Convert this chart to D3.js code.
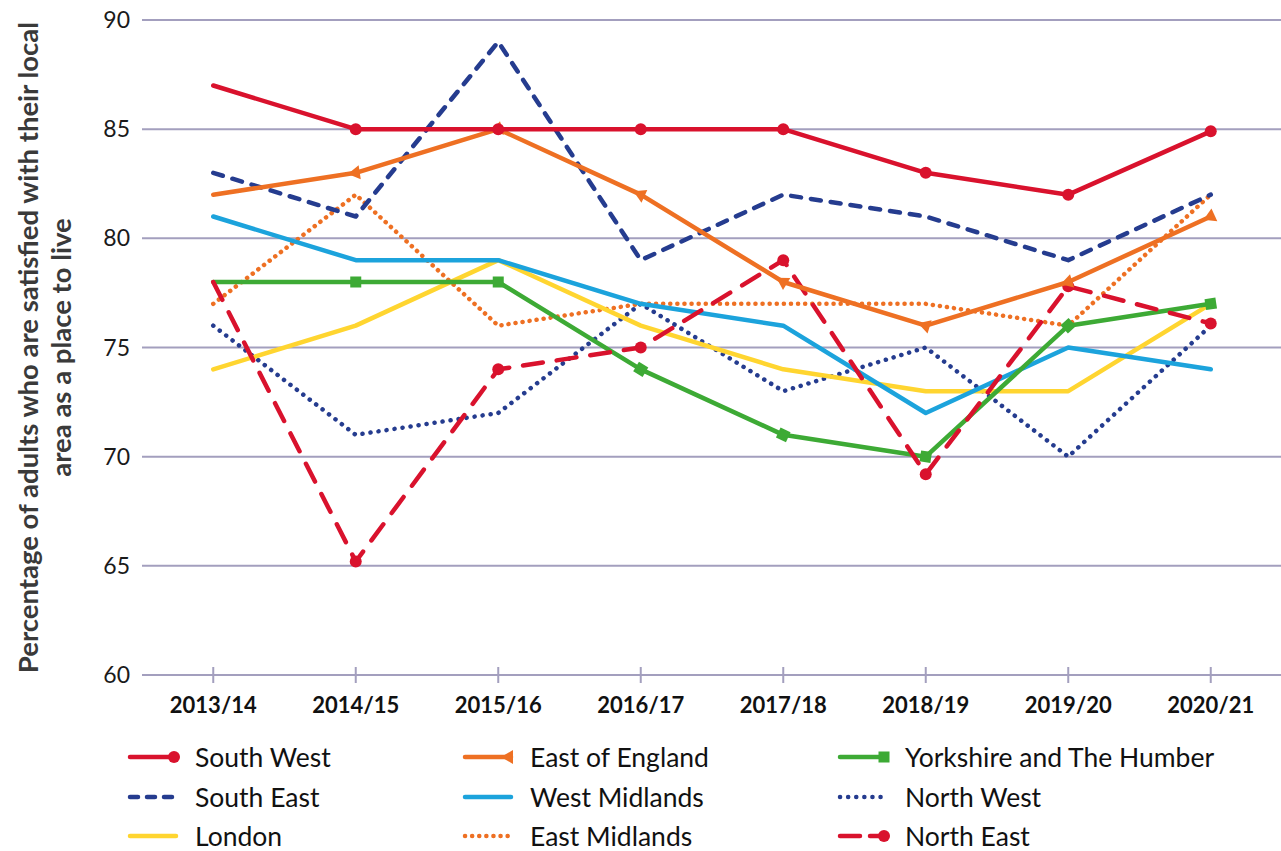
<!DOCTYPE html>
<html>
<head>
<meta charset="utf-8">
<script src="https://cdn.jsdelivr.net/npm/d3@7"></script>
<style>
  body { margin: 0; background: #fff; }
  svg { font-family: Lato, "Open Sans", sans-serif; }
</style>
</head>
<body>
<svg id="chart" width="1281" height="851"></svg>
<script>
// data
const years = ['2013/14', '2014/15', '2015/16', '2016/17', '2017/18', '2018/19', '2019/20', '2020/21'];
const yTicks = [60, 65, 70, 75, 80, 85, 90];

const southWest = [87, 85, 85, 85, 85, 83, 82, 84.9];
const eastOfEngland = [82, 83, 85, 82, 78, 76, 78, 81];
const yorkshire = [78, 78, 78, 74, 71, 70, 76, 77];
const southEast = [83, 81, 89, 79, 82, 81, 79, 82];
const westMidlands = [81, 79, 79, 77, 76, 72, 75, 74];
const northWest = [76, 71, 72, 77, 73, 75, 70, 76];
const london = [74, 76, 79, 76, 74, 73, 73, 77];
const eastMidlands = [77, 82, 76, 77, 77, 77, 76, 82];
const northEast = [78, 65.2, 74, 75, 79, 69.2, 77.8, 76.1];

const red = '#d9122d', orange = '#ee7023', green = '#3daa35',
      navy = '#253c8f', cyan = '#1ca3dc', yellow = '#ffd530';

// drawing order: first listed is drawn at the bottom
const series = [
  {name: 'North West', values: northWest, color: navy, dash: '0.1 8'},
  {name: 'East Midlands', values: eastMidlands, color: orange, dash: '0.1 7'},
  {name: 'London', values: london, color: yellow, dash: null},
  {name: 'West Midlands', values: westMidlands, color: cyan, dash: null},
  {name: 'South East', values: southEast, color: navy, dash: '10 10'},
  {name: 'Yorkshire and The Humber', values: yorkshire, color: green, dash: null, marker: 'square'},
  {name: 'North East', values: northEast, color: red, dash: '20 14', marker: 'circle'},
  {name: 'East of England', values: eastOfEngland, color: orange, dash: null, marker: 'triangle'},
  {name: 'South West', values: southWest, color: red, dash: null, marker: 'circle'}
];

const legendOrder = ['South West', 'East of England', 'Yorkshire and The Humber',
  'South East', 'West Midlands', 'North West',
  'London', 'East Midlands', 'North East'];

const svg = d3.select('#chart');
const plotLeft = 142, plotRight = 1282, plotTop = 20, plotBottom = 675;

const x = d3.scalePoint().domain(years).range([plotLeft, plotRight]).padding(0.5);
const y = d3.scaleLinear().domain([60, 90]).range([plotBottom, plotTop]);

// gridlines
svg.append('g')
  .selectAll('line')
  .data(yTicks)
  .join('line')
  .attr('x1', plotLeft)
  .attr('x2', plotRight)
  .attr('y1', d => y(d))
  .attr('y2', d => y(d))
  .style('stroke', '#a39fbe')
  .attr('stroke-width', 2);

// y tick labels
svg.append('g')
  .selectAll('text')
  .data(yTicks)
  .join('text')
  .attr('x', 130)
  .attr('y', d => y(d))
  .attr('dy', '0.35em')
  .attr('text-anchor', 'end')
  .style('font-size', '23px')
  .style('fill', '#1a1a1a')
  .text(d => d);

// x axis ticks and labels
const xAxis = svg.append('g');
xAxis.selectAll('line')
  .data(years)
  .join('line')
  .attr('x1', d => x(d))
  .attr('x2', d => x(d))
  .attr('y1', plotBottom - 8)
  .attr('y2', plotBottom + 8)
  .style('stroke', '#a39fbe')
  .attr('stroke-width', 2);
xAxis.selectAll('text')
  .data(years)
  .join('text')
  .attr('x', d => x(d))
  .attr('y', 713)
  .attr('text-anchor', 'middle')
  .style('font-size', '22px')
  .style('font-weight', 'bold')
  .style('fill', '#111')
  .text(d => d);

// y axis title
const title = svg.append('text')
  .attr('transform', 'translate(38,' + (plotTop + plotBottom) / 2 + ') rotate(-90)')
  .attr('text-anchor', 'middle')
  .style('font-size', '27.5px')
  .style('font-weight', 'bold')
  .style('fill', '#3a3a3a');
title.append('tspan').attr('x', 0).attr('dy', 0).text('Percentage of adults who are satisfied with their local');
title.append('tspan').attr('x', 0).attr('dy', 33).text('area as a place to live');

const line = d3.line()
  .x((d, i) => x(years[i]))
  .y(d => y(d));

function drawMarker(g, type, color, cx, cy, angle) {
  if (type == 'circle') {
    g.append('circle').attr('cx', cx).attr('cy', cy).attr('r', 6).style('fill', color);
  }
  else if (type == 'square') {
    g.append('rect')
      .attr('x', -5.5).attr('y', -5.5).attr('width', 11).attr('height', 11)
      .attr('transform', 'translate(' + cx + ',' + cy + ') rotate(' + angle + ')')
      .style('fill', color);
  }
  else if (type == 'triangle') {
    g.append('path')
      .attr('d', 'M-8,0 L4,-7 L4,7 Z')
      .attr('transform', 'translate(' + cx + ',' + cy + ') rotate(' + angle + ')')
      .style('fill', color);
  }
}

const plot = svg.append('g');
series.forEach(s => {
  plot.append('path')
    .datum(s.values)
    .attr('d', line)
    .style('fill', 'none')
    .style('stroke', s.color)
    .attr('stroke-width', 4.5)
    .attr('stroke-linejoin', 'round')
    .attr('stroke-linecap', 'round')
    .attr('stroke-dasharray', s.dash);
  if (s.marker) {
    s.values.forEach((v, i) => {
      if (i == 0) return;
      const x0 = x(years[i - 1]), y0 = y(s.values[i - 1]);
      const x1 = x(years[i]), y1 = y(v);
      const angle = Math.atan2(y1 - y0, x1 - x0) * 180 / Math.PI;
      drawMarker(plot, s.marker, s.color, x1, y1, angle);
    });
  }
});

// legend
const colX = [128, 463, 838];
const rowY = [757, 797, 836];
const legend = svg.append('g');
legendOrder.forEach((name, k) => {
  const s = series.find(d => d.name == name);
  const lx = colX[k % 3], ly = rowY[Math.floor(k / 3)];
  const dash = s.name == 'North East' ? '20 10' : s.name == 'South East' ? '8 9' : s.dash;
  legend.append('line')
    .attr('x1', lx + 2).attr('x2', lx + 48)
    .attr('y1', ly).attr('y2', ly)
    .style('stroke', s.color)
    .attr('stroke-width', 4.5)
    .attr('stroke-linecap', 'round')
    .attr('stroke-dasharray', dash);
  if (s.marker) drawMarker(legend, s.marker, s.color, lx + 46, ly, 0);
  legend.append('text')
    .attr('x', lx + 67)
    .attr('y', ly)
    .attr('dy', '0.36em')
    .style('font-size', '26.5px')
    .style('fill', '#111')
    .text(s.name);
});
</script>
</body>
</html>
